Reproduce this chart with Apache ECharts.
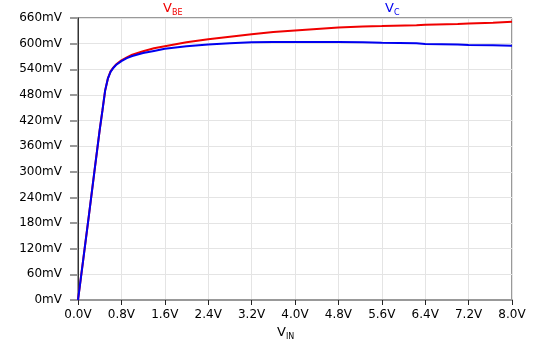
<!DOCTYPE html>
<html>
<head>
<meta charset="utf-8">
<script src="https://cdn.jsdelivr.net/npm/echarts@6/dist/echarts.min.js"></script>
<style>html,body{margin:0;padding:0;background:#fff}#c{width:560px;height:354px}</style>
</head>
<body>
<div id="c"></div>
<script>
var vin = [0, 0.1, 0.2, 0.3, 0.4, 0.45, 0.5, 0.55, 0.6, 0.65, 0.7, 0.8, 0.9, 1.0, 1.2, 1.4, 1.6, 2.0, 2.4, 2.8, 3.2, 3.6, 4.0, 4.8, 5.25, 5.6, 6.24, 6.4, 7.0, 7.2, 7.65, 8.0];
var vc  = [0, 98, 197, 298, 398, 443, 490, 518, 534, 543, 550, 559, 566, 571, 578, 583, 588, 594, 598, 601, 603, 604, 604, 604, 603, 602, 601, 599, 598, 597, 596, 595];
var vbe = [0, 98, 197, 298, 398, 443, 490, 518, 535, 544, 551, 561, 568, 574, 582, 589, 594, 603, 610, 616, 622, 627, 631, 638, 640, 641, 643, 644, 646, 647, 649, 651];
var seriesNames = ['V_BE', 'V_C'];

function pairs(xs, ys) { return xs.map(function (x, i) { return [x, ys[i]]; }); }

var chart = echarts.init(document.getElementById('c'), null, { renderer: 'canvas' });
var font = 'DejaVu Sans';
chart.setOption({
  animation: false,
  backgroundColor: '#fff',
  grid: { left: 78, right: 48, top: 18, bottom: 54, show: true, borderColor: '#333', borderWidth: 1, containLabel: false },
  xAxis: {
    type: 'value', min: 0, max: 8, interval: 0.8,
    axisLine: { show: true, lineStyle: { color: '#999', width: 2 } },
    axisTick: { show: true, length: 5, lineStyle: { color: '#222', width: 1 } },
    axisLabel: { margin: 9, color: '#000', fontFamily: font, fontSize: 12,
      formatter: function (v) { return v.toFixed(1) + 'V'; } },
    splitLine: { show: true, lineStyle: { color: '#e4e4e4', width: 1 } }
  },
  yAxis: {
    type: 'value', min: 0, max: 660, interval: 60,
    axisLine: { show: true, onZero: false, lineStyle: { color: '#333', width: 1 } },
    axisTick: { show: true, length: 8, lineStyle: { color: '#999', width: 2 } },
    axisLabel: { margin: 16, color: '#000', fontFamily: font, fontSize: 12,
      formatter: function (v) { return v + 'mV'; } },
    splitLine: { show: true, lineStyle: { color: '#e4e4e4', width: 1 } }
  },
  graphic: [
    { type: 'text', left: 163, top: 2, style: { text: '{v|V}{s|BE}', rich: {
      v: { fontFamily: font, fontSize: 13, fill: '#f00000' },
      s: { fontFamily: font, fontSize: 8, fill: '#f00000', padding: [8, 0, 0, 0] } } } },
    { type: 'text', left: 385, top: 2, style: { text: '{v|V}{s|C}', rich: {
      v: { fontFamily: font, fontSize: 13, fill: '#0000f0' },
      s: { fontFamily: font, fontSize: 8, fill: '#0000f0', padding: [8, 0, 0, 0] } } } },
    { type: 'text', left: 277, top: 326, style: { text: '{v|V}{s|IN}', rich: {
      v: { fontFamily: font, fontSize: 13, fill: '#000' },
      s: { fontFamily: font, fontSize: 8, fill: '#000', padding: [8, 0, 0, 0] } } } }
  ],
  series: [
    { name: seriesNames[0], type: 'line', data: pairs(vin, vbe), showSymbol: false, smooth: false,
      lineStyle: { color: '#f00000', width: 2 }, z: 3 },
    { name: seriesNames[1], type: 'line', data: pairs(vin, vc), showSymbol: false, smooth: false,
      lineStyle: { color: '#0000f0', width: 2 }, z: 4 }
  ]
});
</script>
</body>
</html>
